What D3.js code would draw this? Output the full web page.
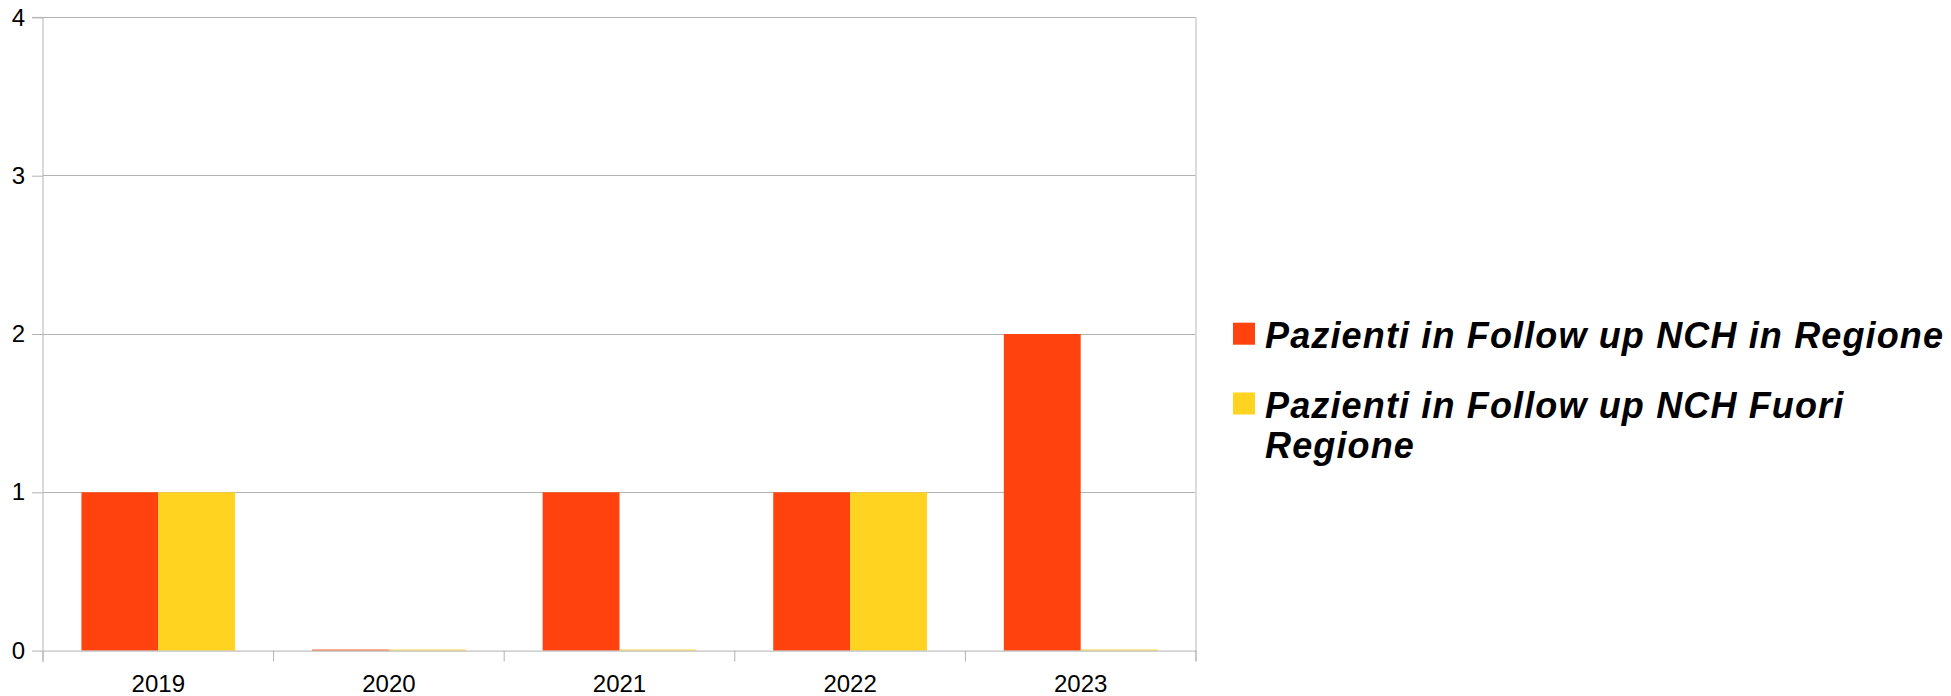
<!DOCTYPE html>
<html>
<head>
<meta charset="utf-8">
<script src="https://cdn.jsdelivr.net/npm/d3@7"></script>
<style>
  html, body { margin: 0; padding: 0; background: #ffffff; }
  svg { display: block; }
</style>
</head>
<body>
<svg id="chart" width="1951" height="696"></svg>
<script>
const categories = ["2019", "2020", "2021", "2022", "2023"];
const seriesNames = ["Pazienti in Follow up NCH in Regione", "Pazienti in Follow up NCH Fuori Regione"];
const inRegione = [1, 0, 1, 1, 2];
const fuoriRegione = [1, 0, 0, 1, 0];
const yTicks = [0, 1, 2, 3, 4];
const legendLines = [["Pazienti in Follow up NCH in Regione"], ["Pazienti in Follow up NCH Fuori", "Regione"]];
const colors = ["#ff420e", "#ffd320"];

const svg = d3.select("#chart");
const margin = { left: 43, right: 1196, top: 17.4, bottom: 650.6 };
const grey = "#b3b3b3";
const font = "'Liberation Sans', Arial, sans-serif";

const x = d3.scaleBand().domain(categories).range([margin.left, margin.right]).paddingInner(0).paddingOuter(0);
const xs = d3.scaleBand().domain([0, 1]).range([0, x.bandwidth()]).paddingInner(0).paddingOuter(0.5);
const y = d3.scaleLinear().domain([0, 4]).range([margin.bottom, margin.top]);

// gridlines
svg.append("g").selectAll("line").data(yTicks.filter(d => d > 0)).join("line")
  .attr("x1", margin.left).attr("x2", margin.right)
  .attr("y1", d => y(d)).attr("y2", d => y(d))
  .attr("stroke", grey).attr("stroke-width", 1).attr("shape-rendering", "crispEdges");

// right border
svg.append("line").attr("x1", margin.right).attr("x2", margin.right)
  .attr("y1", margin.top).attr("y2", margin.bottom + 11)
  .attr("stroke", "#d0d0d0").attr("stroke-width", 1.5);

// bars
const series = [inRegione, fuoriRegione];
series.forEach((vals, si) => {
  svg.append("g").selectAll("rect").data(vals).join("rect")
    .attr("x", (d, i) => x(categories[i]) + xs(si))
    .attr("width", xs.bandwidth())
    .attr("y", d => Math.min(y(d), y(0) - 1))
    .attr("height", d => Math.max(1, y(0) - y(d)))
    .attr("fill", colors[si]);
});

// y axis
const yAxis = d3.axisLeft(y).tickValues(yTicks).tickSize(11).tickPadding(7).tickFormat(d3.format("d"));
const gy = svg.append("g").attr("transform", `translate(${margin.left},0)`).call(yAxis);
gy.selectAll(".tick line").attr("stroke", grey);
gy.selectAll(".tick text").attr("font-family", font).attr("font-size", 24).attr("fill", "#000");

// x axis
const xAxis = d3.axisBottom(x).tickSize(0).tickPadding(24);
const gx = svg.append("g").attr("transform", `translate(0,${margin.bottom})`).call(xAxis);
gx.select(".domain").attr("stroke", grey);
gx.selectAll(".tick text").attr("font-family", font).attr("font-size", 24).attr("fill", "#000");
// category boundary ticks
const bounds = categories.map(c => x(c)).concat([margin.right]);
svg.append("g").selectAll("line").data(bounds).join("line")
  .attr("x1", d => d).attr("x2", d => d)
  .attr("y1", margin.bottom).attr("y2", margin.bottom + 11)
  .attr("stroke", grey);
gy.select(".domain").attr("stroke", grey).attr("d", `M-11,${margin.top}H0V${margin.bottom + 11}`);

// legend
const lg = svg.append("g");
const legendY = [322.7, 392.5];
const textX = 1265;
const fs = 36;
const targetW = 678;
const probe = lg.append("text").attr("font-family", font).attr("font-size", fs)
  .attr("font-weight", "bold").attr("font-style", "italic").text(legendLines[0][0]);
const wNat = probe.node().getComputedTextLength();
probe.remove();
const ls = Math.max(0, (targetW - wNat) / (legendLines[0][0].length - 1));
legendLines.forEach((lines, i) => {
  lg.append("rect").attr("x", 1233).attr("y", legendY[i]).attr("width", 22).attr("height", 22)
    .attr("fill", colors[i]);
  const t = lg.append("text").attr("font-family", font).attr("font-size", fs)
    .attr("font-weight", "bold").attr("font-style", "italic").attr("fill", "#000")
    .attr("letter-spacing", ls);
  lines.forEach((ln, j) => {
    t.append("tspan").attr("x", textX).attr("y", legendY[i] + 25.6 + j * 40).text(ln);
  });
});
</script>
</body>
</html>
